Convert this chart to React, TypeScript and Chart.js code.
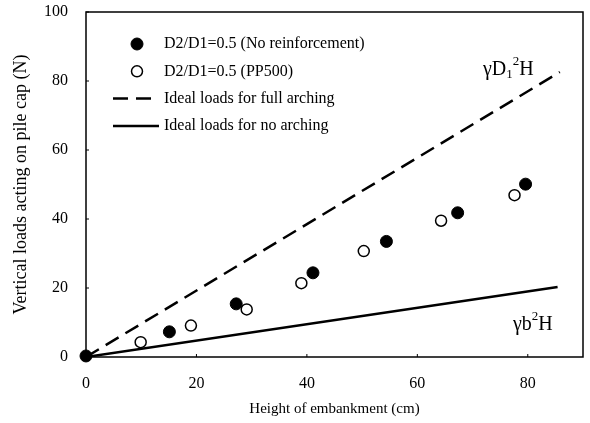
import { useEffect, useRef } from "react";
import { Chart, registerables } from "chart.js";

Chart.register(...registerables);

// Axis ticks
const X_TICKS = [0, 20, 40, 60, 80];
const Y_TICKS = [0, 20, 40, 60, 80, 100];

// Measured loads, D2/D1 = 0.5, no reinforcement
const noReinfHeight = [0, 15.1, 27.2, 41.1, 54.4, 67.3, 79.6];
const noReinfLoad = [0.3, 7.3, 15.4, 24.4, 33.5, 41.8, 50.1];

// Measured loads, D2/D1 = 0.5, PP500
const pp500Height = [9.9, 19.0, 29.1, 39.0, 50.3, 64.3, 77.6];
const pp500Load = [4.3, 9.1, 13.8, 21.4, 30.7, 39.5, 46.9];

// Ideal load lines
const fullArchHeight = [0, 85.8];
const fullArchLoad = [0, 82.6];
const noArchHeight = [0, 85.4];
const noArchLoad = [0, 20.3];

const SERIES_LABELS = [
  "D2/D1=0.5 (No reinforcement)",
  "D2/D1=0.5 (PP500)",
  "Ideal loads for full arching",
  "Ideal loads for no arching",
];

const SERIF = "'Liberation Serif', 'Times New Roman', serif";

const pts = (xs: number[], ys: number[]) => xs.map((x, i) => ({ x, y: ys[i] }));

// Draws the frame, inward ticks, legend and the formula labels
const overlay = {
  id: "overlay",
  beforeDatasetsDraw(chart: any) {
    const { ctx, chartArea: a, scales } = chart;
    ctx.save();
    ctx.strokeStyle = "#000";
    ctx.lineWidth = 1;
    for (const v of X_TICKS) {
      const x = scales.x.getPixelForValue(v);
      ctx.beginPath();
      ctx.moveTo(x, a.bottom);
      ctx.lineTo(x, a.bottom - 3);
      ctx.stroke();
    }
    for (const v of Y_TICKS) {
      const y = scales.y.getPixelForValue(v);
      ctx.beginPath();
      ctx.moveTo(a.left, y);
      ctx.lineTo(a.left + 3, y);
      ctx.stroke();
    }
    ctx.lineWidth = 1.5;
    ctx.strokeRect(a.left, a.top, a.right - a.left, a.bottom - a.top);
    ctx.restore();
  },
  afterDraw(chart: any) {
    const { ctx } = chart;
    ctx.save();
    // legend
    const sx = 137;
    const tx = 164;
    let y = 44;
    chart.data.datasets.forEach((ds: any) => {
      ctx.strokeStyle = "#000";
      if (ds.showLine) {
        ctx.lineWidth = ds.borderWidth;
        ctx.setLineDash(ds.borderDash || []);
        ctx.beginPath();
        ctx.moveTo(113, y);
        ctx.lineTo(ds.borderDash ? 153 : 159, y);
        ctx.stroke();
        ctx.setLineDash([]);
      } else {
        ctx.beginPath();
        ctx.arc(sx, y, ds.pointRadius, 0, Math.PI * 2);
        ctx.fillStyle = ds.pointBackgroundColor;
        ctx.fill();
        ctx.lineWidth = ds.pointBorderWidth;
        ctx.stroke();
      }
      ctx.fillStyle = "#000";
      ctx.font = `16px ${SERIF}`;
      ctx.textBaseline = "middle";
      ctx.textAlign = "left";
      ctx.fillText(ds.label, tx, y);
      y += 27.3;
    });

    // formula labels: [text, size, baseline shift]
    const drawRuns = (x: number, base: number, runs: [string, number, number][]) => {
      ctx.textBaseline = "alphabetic";
      ctx.textAlign = "left";
      for (const [t, size, dy] of runs) {
        ctx.font = `${size}px ${SERIF}`;
        ctx.fillText(t, x, base + dy);
        x += ctx.measureText(t).width;
      }
    };
    ctx.fillStyle = "#000";
    drawRuns(483, 75, [
      ["γD", 20, 0],
      ["1", 13, 3],
      ["2", 13, -10],
      ["H", 20, 0],
    ]);
    drawRuns(513, 330, [
      ["γb", 20, 0],
      ["2", 13, -10],
      ["H", 20, 0],
    ]);
    ctx.restore();
  },
};

export default function App() {
  const ref = useRef<HTMLCanvasElement | null>(null);

  useEffect(() => {
    if (!ref.current) return;
    const chart = new Chart(ref.current, {
      type: "scatter",
      data: {
        datasets: [
          {
            label: SERIES_LABELS[0],
            data: pts(noReinfHeight, noReinfLoad),
            pointRadius: 6,
            pointBackgroundColor: "#000",
            pointBorderColor: "#000",
            pointBorderWidth: 1,
            showLine: false,
            clip: false,
            order: 0,
          },
          {
            label: SERIES_LABELS[1],
            data: pts(pp500Height, pp500Load),
            pointRadius: 5.5,
            pointBackgroundColor: "#fff",
            pointBorderColor: "#000",
            pointBorderWidth: 1.5,
            showLine: false,
            order: 0,
          },
          {
            label: SERIES_LABELS[2],
            data: pts(fullArchHeight, fullArchLoad),
            showLine: true,
            borderColor: "#000",
            borderWidth: 2.5,
            borderDash: [15, 8],
            pointRadius: 0,
            order: 1,
          },
          {
            label: SERIES_LABELS[3],
            data: pts(noArchHeight, noArchLoad),
            showLine: true,
            borderColor: "#000",
            borderWidth: 2.5,
            pointRadius: 0,
            order: 1,
          },
        ],
      },
      options: {
        animation: false,
        responsive: false,
        layout: { padding: { top: 12, right: 3, left: 0, bottom: 0 } },
        plugins: { legend: { display: false }, tooltip: { enabled: false } },
        scales: {
          x: {
            type: "linear",
            min: 0,
            max: 90,
            grid: { display: false },
            border: { display: false },
            afterBuildTicks: (s: any) => {
              s.ticks = X_TICKS.map((v) => ({ value: v }));
            },
            afterFit: (s: any) => {
              s.height = 66;
              s.paddingLeft = 0;
              s.paddingRight = 0;
            },
            ticks: { color: "#000", padding: 9, font: { family: SERIF, size: 16 } },
            title: {
              display: true,
              text: "Height of embankment (cm)",
              color: "#000",
              font: { family: SERIF, size: 15 },
              padding: { top: 0, bottom: 5 },
            },
          },
          y: {
            type: "linear",
            min: 0,
            max: 100,
            grid: { display: false },
            border: { display: false },
            afterBuildTicks: (s: any) => {
              s.ticks = Y_TICKS.map((v) => ({ value: v }));
            },
            afterFit: (s: any) => {
              s.width = 86;
              s.paddingTop = 0;
              s.paddingBottom = 0;
            },
            ticks: { color: "#000", padding: 10, font: { family: SERIF, size: 16 } },
            title: {
              display: true,
              text: "Vertical loads acting on pile cap (N)",
              color: "#000",
              font: { family: SERIF, size: 18 },
              padding: { top: 10, bottom: 0 },
            },
          },
        },
      },
      plugins: [overlay],
    } as any);
    return () => chart.destroy();
  }, []);

  return (
    <div style={{ position: "fixed", left: 0, top: 0, width: 590, height: 423, background: "#fff" }}>
      <canvas ref={ref} width={590} height={423} style={{ display: "block" }} />
    </div>
  );
}
